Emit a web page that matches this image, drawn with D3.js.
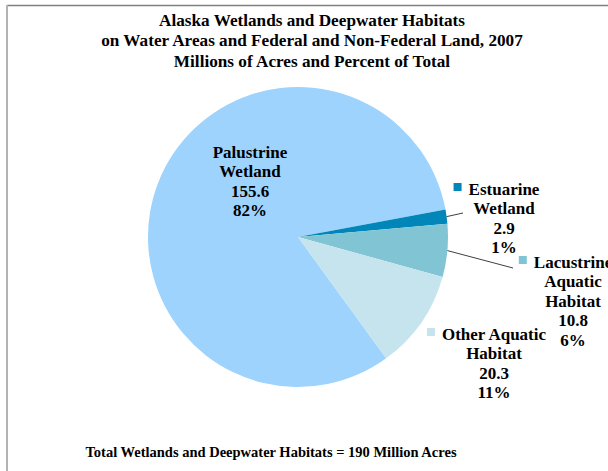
<!DOCTYPE html>
<html>
<head>
<meta charset="utf-8">
<script src="https://cdn.jsdelivr.net/npm/d3@7"></script>
<style>
    body { margin: 0; background: #ffffff; }
</style>
</head>
<body>
<div id="chartContainer"></div>
<script>
// Chart data
var categories = ["Palustrine Wetland", "Estuarine Wetland", "Lacustrine Aquatic Habitat", "Other Aquatic Habitat"];
var acres = [155.6, 2.9, 10.8, 20.3];
var percents = ["82%", "1%", "6%", "11%"];
var labelLines = [
    ["Palustrine", "Wetland"],
    ["Estuarine", "Wetland"],
    ["Lacustrine", "Aquatic", "Habitat"],
    ["Other Aquatic", "Habitat"]
];
var titleLines = [
    "Alaska Wetlands and Deepwater Habitats",
    "on Water Areas and Federal and Non-Federal Land, 2007",
    "Millions of Acres and Percent of Total"
];
var footerText = "Total Wetlands and Deepwater Habitats = 190 Million Acres";

var width = 608;
var height = 471;

var pieCenterX = 298;
var pieCenterY = 237;
var pieRadius = 150;

// first slice (Palustrine) begins at about 144 degrees clockwise from 12 o'clock
var startAngle = 144 * Math.PI / 180;

var colors = ["#9dd3fd", "#0086b8", "#81c5d5", "#c6e4ee"];

var fontFamily = "'Liberation Serif', 'Times New Roman', serif";
var fontSize = 17;
var lineHeight = 19.4;

// Where each data label sits: centre x of the text block and baseline of first line
var labelLayout = [
    { x: 250, y: 158, key: false, leader: null },
    { x: 504, y: 195, key: true, leader: [463, 213] },
    { x: 573, y: 268, key: true, leader: [513, 268] },
    { x: 494, y: 340, key: true, leader: null }
];

var svgSelection = d3.select("#chartContainer").append("svg")
    .attr("width", width)
    .attr("height", height);

function addFrame(svg) {
    svg.append("line")
        .attr("x1", 7).attr("y1", 5.5)
        .attr("x2", width).attr("y2", 5.5)
        .attr("stroke", "#808080")
        .attr("stroke-width", 1.5);

    svg.append("line")
        .attr("x1", 7).attr("y1", 5)
        .attr("x2", 7).attr("y2", height)
        .attr("stroke", "#b3b3b3")
        .attr("stroke-width", 2);
}

function addTitle(svg) {
    svg.append("g").selectAll("text")
        .data(titleLines)
        .enter()
        .append("text")
        .attr("x", 312)
        .attr("y", function (d, i) { return 26 + i * 20.3; })
        .attr("text-anchor", "middle")
        .attr("font-family", fontFamily)
        .attr("font-weight", "bold")
        .attr("font-size", "17.2px")
        .attr("fill", "#000")
        .text(function (d) { return d; });
}

function addPie(svg) {
    var pie = d3.pie()
        .sort(null)
        .value(function (d) { return d; })
        .startAngle(startAngle)
        .endAngle(startAngle + 2 * Math.PI);

    var arc = d3.arc().innerRadius(0).outerRadius(pieRadius);
    var edgeArc = d3.arc().innerRadius(pieRadius).outerRadius(pieRadius);

    var arcs = pie(acres);

    var pieGroup = svg.append("g")
        .attr("transform", "translate(" + pieCenterX + "," + pieCenterY + ")");

    pieGroup.selectAll("path")
        .data(arcs)
        .enter()
        .append("path")
        .attr("d", arc)
        .attr("fill", function (d, i) { return colors[i]; });

    // leader lines from the slice edge to the outside labels
    arcs.forEach(function (d, i) {
        var layout = labelLayout[i];
        if (!layout.leader) {
            return;
        }
        var start = edgeArc.centroid(d);
        pieGroup.append("line")
            .attr("x1", start[0])
            .attr("y1", start[1])
            .attr("x2", layout.leader[0] - pieCenterX)
            .attr("y2", layout.leader[1] - pieCenterY)
            .attr("stroke", "#404040")
            .attr("stroke-width", 1);
    });
}

function addLabels(svg) {
    for (var i = 0; i < categories.length; i++) {
        var layout = labelLayout[i];
        var lines = labelLines[i].concat([d3.format(".1f")(acres[i]), percents[i]]);
        var labelGroup = svg.append("g");

        var texts = labelGroup.selectAll("text")
            .data(lines)
            .enter()
            .append("text")
            .attr("x", layout.x)
            .attr("y", function (d, j) { return layout.y + j * lineHeight; })
            .attr("text-anchor", "middle")
            .attr("font-family", fontFamily)
            .attr("font-weight", "bold")
            .attr("font-size", fontSize + "px")
            .attr("fill", "#000")
            .text(function (d) { return d; });

        if (layout.key) {
            var firstWidth = texts.node().getComputedTextLength();
            labelGroup.append("rect")
                .attr("x", layout.x - firstWidth / 2 - 15)
                .attr("y", layout.y - 12)
                .attr("width", 8)
                .attr("height", 8)
                .attr("fill", colors[i]);
        }
    }
}

function addFooter(svg) {
    svg.append("text")
        .attr("x", 271)
        .attr("y", 457)
        .attr("text-anchor", "middle")
        .attr("font-family", fontFamily)
        .attr("font-weight", "bold")
        .attr("font-size", "14.5px")
        .attr("fill", "#000")
        .text(footerText);
}

addFrame(svgSelection);
addTitle(svgSelection);
addPie(svgSelection);
addLabels(svgSelection);
addFooter(svgSelection);
</script>
</body>
</html>
